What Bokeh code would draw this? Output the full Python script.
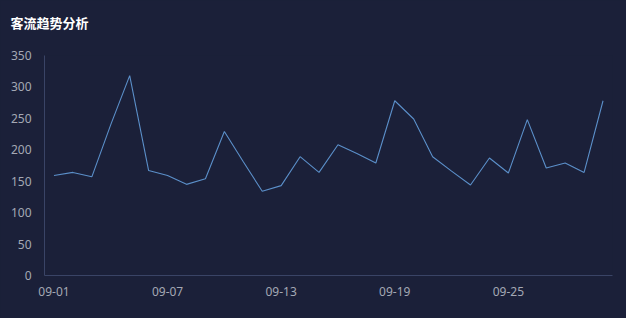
from bokeh.plotting import figure
from bokeh.models import FixedTicker, Range1d, Title
from bokeh.embed import file_html
from bokeh.resources import INLINE

dates = ["09-01", "09-02", "09-03", "09-04", "09-05", "09-06", "09-07", "09-08", "09-09", "09-10",
         "09-11", "09-12", "09-13", "09-14", "09-15", "09-16", "09-17", "09-18", "09-19", "09-20",
         "09-21", "09-22", "09-23", "09-24", "09-25", "09-26", "09-27", "09-28", "09-29", "09-30"]
visitors = [159, 164, 157, 240, 318, 167, 159, 145, 154, 229,
            181, 134, 143, 189, 164, 208, 194, 179, 278, 249,
            189, 166, 144, 187, 163, 248, 171, 179, 164, 278]
y_ticks = [0, 50, 100, 150, 200, 250, 300, 350]
label_every = 6

BG = "#1b2039"
idx = list(range(len(dates)))

p = figure(width=626, height=318, output_backend="svg", toolbar_location=None,
           title="客流趋势分析",
           x_range=Range1d(-0.5, len(dates) - 0.5), y_range=Range1d(0, 350),
           min_border_left=44, min_border_right=14, min_border_top=55, min_border_bottom=43)
p.background_fill_color = BG
p.border_fill_color = BG
p.outline_line_color = None
p.grid.visible = False

p.title.text_color = "#ffffff"
p.title.text_font = "Noto Sans CJK SC"
p.title.text_font_size = "13px"
p.title.text_font_style = "bold"
p.title.align = "left"
p.title.offset = -34
p.title.standoff = 16

# empty spacer panel between the title and the plot area
p.add_layout(Title(text=" ", text_font_size="10px", standoff=3, text_color=BG), "above")

p.line(idx, visitors, line_color="#5b8fc9", line_width=1.1)

tick_pos = idx[::label_every]
p.xaxis.ticker = FixedTicker(ticks=tick_pos)
p.xaxis.major_label_overrides = {i: dates[i] for i in tick_pos}
p.yaxis.ticker = FixedTicker(ticks=y_ticks)

for ax in (p.xaxis[0], p.yaxis[0]):
    ax.axis_line_color = "#3a4466"
    ax.axis_line_width = 1
    ax.major_tick_line_color = None
    ax.minor_tick_line_color = None
    ax.major_label_text_color = "#a4a8b4"
    ax.major_label_text_font = "Noto Sans"
    ax.major_label_text_font_size = "12px"
p.xaxis.major_label_standoff = 5
p.yaxis.major_label_standoff = 7

html = file_html(p, INLINE)
html = html.replace("<head>", "<head><style>html,body{background:#1b2039;margin:0;}</style>", 1)
open("out.html", "w").write(html)
